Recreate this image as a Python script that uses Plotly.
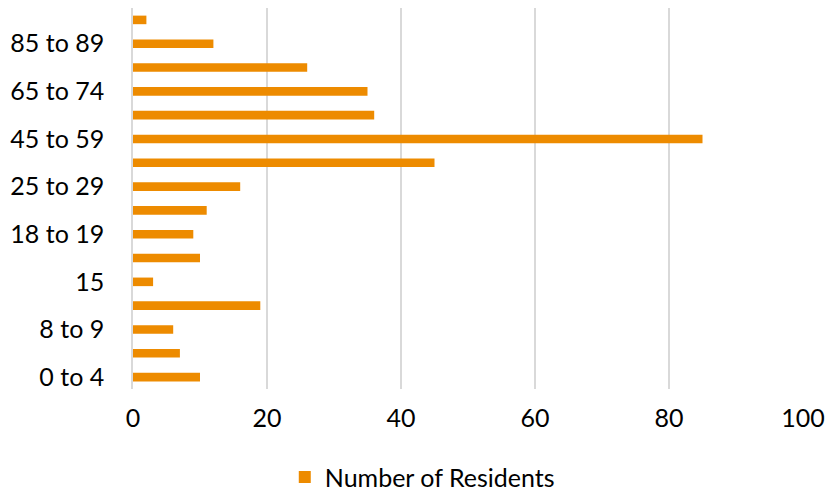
import plotly.graph_objects as go

categories = ["0 to 4", "5 to 7", "8 to 9", "10 to 14", "15", "16 to 17", "18 to 19",
              "20 to 24", "25 to 29", "30 to 44", "45 to 59", "60 to 64", "65 to 74",
              "75 to 84", "85 to 89", "90 and over"]
residents = [10, 7, 6, 19, 3, 10, 9, 11, 16, 45, 85, 36, 35, 26, 12, 2]
shown_labels = categories[::2]
x_ticks = [0, 20, 40, 60, 80, 100]

color = "#ED8B00"
font_family = "Lato, 'Open Sans', sans-serif"

fig = go.Figure()
fig.add_trace(go.Bar(
    y=categories, x=residents, orientation="h",
    name="Number of Residents",
    marker=dict(color=color, line=dict(width=0)),
    width=0.36,
))

fig.update_layout(
    width=828, height=491,
    margin=dict(l=132.5, r=25, t=8, b=102, autoexpand=False),
    paper_bgcolor="white", plot_bgcolor="white",
    font=dict(family=font_family, size=25, color="#000000"),
    showlegend=True,
    legend=dict(orientation="h", xref="container", yref="container",
                x=0.51, xanchor="center", y=0.028, yanchor="middle",
                font=dict(size=25), itemwidth=30, bgcolor="rgba(0,0,0,0)"),
    bargap=0.64,
)
fig.update_xaxes(range=[0, 100], tickvals=x_ticks, showgrid=True,
                 gridcolor="#D9D9D9", gridwidth=1.5, zeroline=False,
                 showline=False, ticks="", ticklabelstandoff=12,
                 tickfont=dict(size=25), automargin=False)
fig.update_yaxes(type="category", categoryorder="array", categoryarray=categories,
                 tickvals=shown_labels, ticktext=shown_labels,
                 range=[-0.5, len(categories) - 0.5],
                 showgrid=False, showline=True, linecolor="#D9D9D9", linewidth=1.5,
                 ticks="", ticklabelstandoff=22, tickfont=dict(size=25),
                 automargin=False)

fig.write_html("out.html")
